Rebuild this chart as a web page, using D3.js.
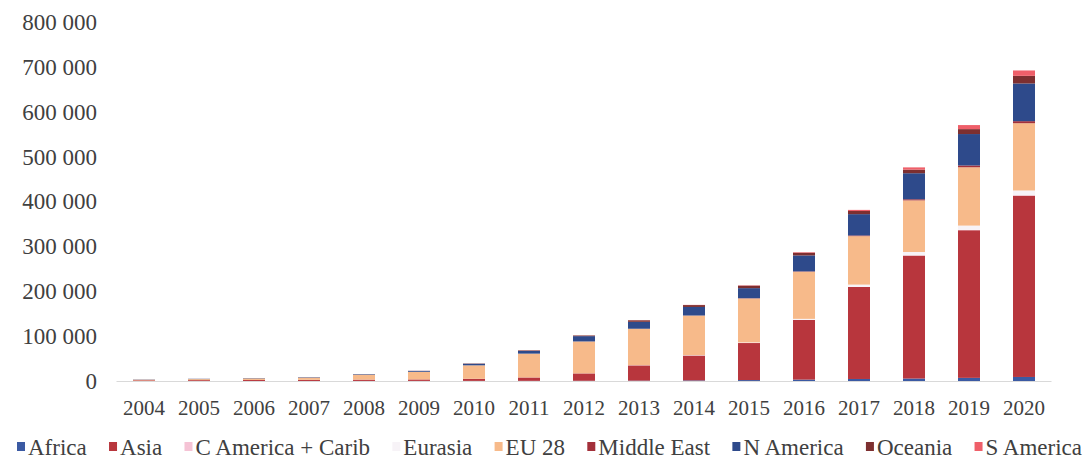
<!DOCTYPE html>
<html>
<head>
<meta charset="utf-8">
<script src="https://cdn.jsdelivr.net/npm/d3@7"></script>
<style>
  body { margin: 0; background: #fff; }
</style>
</head>
<body>
<svg id="chart" width="1083" height="459"></svg>
<script>
// years on the x axis
var years = ["2004","2005","2006","2007","2008","2009","2010","2011","2012","2013","2014","2015","2016","2017","2018","2019","2020"];

// series values (MW)
var africa    = [50,60,80,100,150,200,250,350,500,800,1300,2100,3100,4500,5500,7000,9000];
var asia      = [1500,1900,2200,2500,2900,3300,4600,7500,16400,34000,55500,82500,133000,205000,274000,329000,404000];
var cAmerica  = [10,10,20,20,30,30,40,50,60,80,100,150,200,300,500,800,1000];
var eurasia   = [0,0,0,0,0,0,20,50,100,400,800,1200,2200,5000,7500,9500,10500];
var eu28      = [1300,2300,3500,5000,11000,17000,30000,53000,71000,81000,88000,98000,105000,108000,115000,130000,150000];
var middleEast= [0,0,0,0,0,10,20,50,100,200,300,500,800,1500,2500,4000,4500];
var nAmerica  = [500,600,700,900,1200,2000,3500,6000,11800,15400,19000,22500,35500,47500,58000,70000,84000];
var oceania   = [50,60,70,80,100,200,600,1200,1500,3400,4200,5500,6000,7000,8000,11000,17000];
var sAmerica  = [50,50,50,50,50,50,50,50,100,200,400,700,1200,2500,5000,9000,12000];

var seriesNames = ["Africa","Asia","C America + Carib","Eurasia","EU 28","Middle East","N America","Oceania","S America"];
var seriesValues = [africa, asia, cAmerica, eurasia, eu28, middleEast, nAmerica, oceania, sAmerica];
var seriesColors = ["#3b5aa3","#b8363d","#f5c3d5","#f7f3f7","#f7ba8a","#a3303a","#2e4a8b","#7d2f30","#ef5f69"];

var yTicks = [0,100000,200000,300000,400000,500000,600000,700000,800000];

var FONT = "'Liberation Serif', 'DejaVu Serif', serif";
var TEXT = "#404040";

var svg = d3.select("#chart");

var rows = years.map(function(yr, i){
  var r = {year: yr};
  seriesNames.forEach(function(n, k){ r[n] = seriesValues[k][i]; });
  return r;
});

var x = d3.scaleBand().domain(years).range([116.5, 1051.5]).paddingInner(0.6).paddingOuter(0.3);
var y = d3.scaleLinear().domain([0, 800000]).range([381, 22]);
var color = d3.scaleOrdinal().domain(seriesNames).range(seriesColors);

var stacked = d3.stack().keys(seriesNames)(rows);

svg.append("g").selectAll("g")
  .data(stacked)
  .join("g")
  .attr("fill", function(d){ return color(d.key); })
  .selectAll("rect")
  .data(function(d){ return d; })
  .join("rect")
  .attr("x", function(d){ return x(d.data.year); })
  .attr("width", x.bandwidth())
  .attr("y", function(d){ return y(d[1]); })
  .attr("height", function(d){ return Math.max(0, y(d[0]) - y(d[1])); });

// baseline
svg.append("line")
  .attr("x1", 116.5).attr("x2", 1051.5)
  .attr("y1", y(0) + 0.5).attr("y2", y(0) + 0.5)
  .attr("stroke", "#d9d9d9").attr("stroke-width", 1);

// y axis labels (no line)
var fmt = function(v){ return v == 0 ? "0" : d3.format(",")(v).replace(/,/g, " "); };
var yAxis = d3.axisLeft(y).tickValues(yTicks).tickFormat(fmt).tickSize(0).tickPadding(0);
var gy = svg.append("g").attr("transform", "translate(97,0)").call(yAxis);
gy.select(".domain").remove();
gy.attr("font-family", FONT).attr("font-size", 23);
gy.selectAll("text").attr("fill", TEXT);

// x axis labels
var xAxis = d3.axisBottom(x).tickSize(0).tickPadding(0);
var gx = svg.append("g").attr("transform", "translate(0,400)").call(xAxis);
gx.select(".domain").remove();
gx.attr("font-family", FONT).attr("font-size", 21);
gx.selectAll("text").attr("fill", TEXT).attr("dy", "0.71em");

// legend, spread to fill the width like the original
var legend = svg.append("g").attr("transform", "translate(0,447)")
  .attr("font-family", FONT).attr("font-size", 23);
var items = seriesNames.map(function(n){
  var item = legend.append("g");
  item.append("rect").attr("x", 0).attr("y", -5).attr("width", 8).attr("height", 9).attr("fill", color(n));
  var t = item.append("text").attr("x", 11).attr("dy", "0.35em").attr("fill", TEXT).text(n);
  return {g: item, w: 11 + t.node().getComputedTextLength()};
});
var totalW = d3.sum(items, function(d){ return d.w; });
var gap = (1082 - 17 - totalW) / (items.length - 1);
var lx = 17;
items.forEach(function(it){
  it.g.attr("transform", "translate(" + lx + ",0)");
  lx += it.w + gap;
});
</script>
</body>
</html>
